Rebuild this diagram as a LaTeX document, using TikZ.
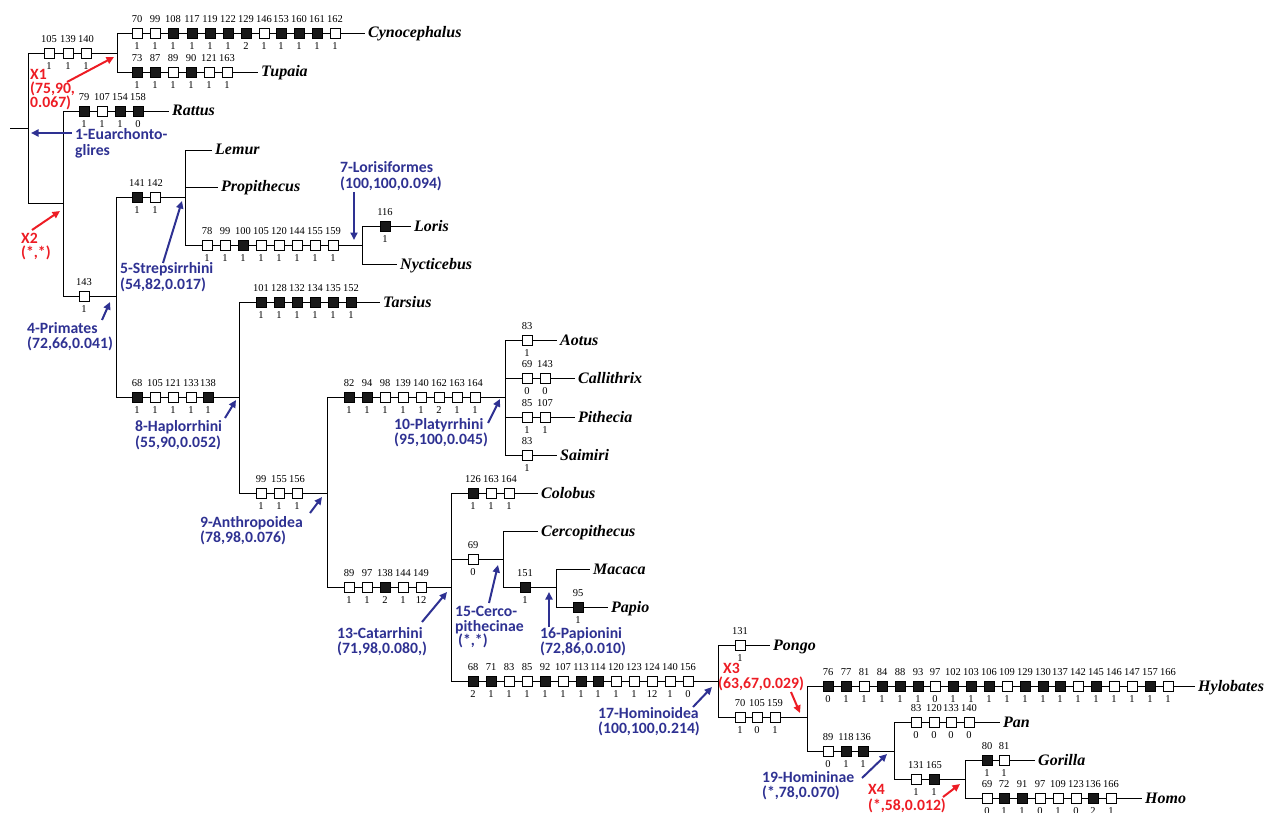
\documentclass[tikz,border=0pt]{standalone}
\usepackage{fontspec}
\setmainfont{Liberation Serif}
\newfontfamily\annfont{Carlito}
\usetikzlibrary{arrows.meta,positioning}
\definecolor{annblue}{RGB}{46,49,146}
\definecolor{annred}{RGB}{237,28,36}
\tikzset{
 br/.style={line width=0.9pt},
 bo/.style={draw, line width=0.9pt, fill=white, minimum size=10pt, inner sep=0pt},
 bf/.style={bo, fill=black!90},
 num/.style={inner sep=0pt, font=\fontsize{10.5}{12}\selectfont},
 taxon/.style={anchor=west, inner sep=3pt, font=\fontsize{16}{18}\selectfont\bfseries\itshape, text height=10pt, text depth=0pt},
 ann/.style={anchor=base west, inner sep=0pt, align=left, font=\fontsize{15.7}{16}\selectfont\annfont\bfseries},
 annb/.style={ann, text=annblue},
 annr/.style={ann, text=annred},
 arb/.style={draw=annblue, line width=2pt, -{Triangle[length=7.5pt,width=7pt]}},
 arr/.style={arb, draw=annred},
}
\newcommand{\charrow}[3]{%
  \foreach \qx/\qt/\qb/\qs [count=\qi] in {#3} {
    \node[\qs] (#1-\qi) at (\qx,#2) {};
    \node[num, above=4.5pt of #1-\qi] (#1-\qi-t) {\qt};
    \node[num, below=3.5pt of #1-\qi] (#1-\qi-b) {\qb};
  }}
\begin{document}
\begin{tikzpicture}[x=1pt,y=-1pt]
\useasboundingbox (0,0) rectangle (1266,813);
% internal nodes
\coordinate (stub) at (10,128);
\coordinate (root) at (28,128);
\coordinate (nA) at (117,53);
\coordinate (nB) at (63,203);
\coordinate (nP) at (116,296);
\coordinate (nS) at (185,197);
\coordinate (nL) at (362,245);
\coordinate (nH) at (239,397);
\coordinate (nAn) at (327,493);
\coordinate (nPl) at (505,397);
\coordinate (nC) at (451,587);
\coordinate (nCe) at (503,559);
\coordinate (nPa) at (556,587);
\coordinate (nHo) at (718,681);
\coordinate (nX3) at (807,717);
\coordinate (nHn) at (894,751);
\coordinate (nX4) at (965,779);
% taxa
\node[taxon] (cyno) at (365,33) {Cynocephalus};
\node[taxon] (tupa) at (258,72) {Tupaia};
\node[taxon] (ratt) at (169,111) {Rattus};
\node[taxon] (lemu) at (212,150) {Lemur};
\node[taxon] (prop) at (218,187) {Propithecus};
\node[taxon] (lori) at (411,226) {Loris};
\node[taxon] (nyct) at (397,264) {Nycticebus};
\node[taxon] (tars) at (380,302) {Tarsius};
\node[taxon] (aotu) at (557,340) {Aotus};
\node[taxon] (call) at (575,378) {Callithrix};
\node[taxon] (pith) at (575,417) {Pithecia};
\node[taxon] (saim) at (557,455) {Saimiri};
\node[taxon] (colo) at (538,493) {Colobus};
\node[taxon] (cerc) at (538,531) {Cercopithecus};
\node[taxon] (maca) at (590,569) {Macaca};
\node[taxon] (papi) at (608,607) {Papio};
\node[taxon] (pong) at (770,645) {Pongo};
\node[taxon] (hylo) at (1195,686) {Hylobates};
\node[taxon] (pan) at (1000,722) {Pan};
\node[taxon] (gori) at (1035,760) {Gorilla};
\node[taxon] (homo) at (1142,798) {Homo};
% branches
\draw[br] (stub) -- (root);
\draw[br] (root) |- (nA);
\draw[br] (root) |- (nB);
\draw[br] (nA) |- (cyno.west);
\draw[br] (nA) |- (tupa.west);
\draw[br] (nB) |- (ratt.west);
\draw[br] (nB) |- (nP);
\draw[br] (nP) |- (nS);
\draw[br] (nP) |- (nH);
\draw[br] (nS) |- (lemu.west);
\draw[br] (nS) |- (prop.west);
\draw[br] (nS) |- (nL);
\draw[br] (nL) |- (lori.west);
\draw[br] (nL) |- (nyct.west);
\draw[br] (nH) |- (tars.west);
\draw[br] (nH) |- (nAn);
\draw[br] (nAn) |- (nPl);
\draw[br] (nAn) |- (nC);
\draw[br] (nPl) |- (aotu.west);
\draw[br] (nPl) |- (call.west);
\draw[br] (nPl) |- (pith.west);
\draw[br] (nPl) |- (saim.west);
\draw[br] (nC) |- (colo.west);
\draw[br] (nC) |- (nCe);
\draw[br] (nC) |- (nHo);
\draw[br] (nCe) |- (cerc.west);
\draw[br] (nCe) |- (nPa);
\draw[br] (nPa) |- (maca.west);
\draw[br] (nPa) |- (papi.west);
\draw[br] (nHo) |- (pong.west);
\draw[br] (nHo) |- (nX3);
\draw[br] (nX3) |- (hylo.west);
\draw[br] (nX3) |- (nHn);
\draw[br] (nHn) |- (pan.west);
\draw[br] (nHn) |- (nX4);
\draw[br] (nX4) |- (gori.west);
\draw[br] (nX4) |- (homo.west);
% character states
\charrow{ca}{53}{49/105/1/bo, 68/139/1/bo, 86/140/1/bo}
\charrow{cy}{33}{137/70/1/bo,155/99/1/bo,173/108/1/bf,192/117/1/bf,210/119/1/bf,228/122/1/bf,246/129/2/bf,264/146/1/bo,281/153/1/bf,299/160/1/bf,317/161/1/bf,335/162/1/bo}
\charrow{tu}{72}{137/73/1/bf,155/87/1/bf,173/89/1/bo,191/90/1/bf,209/121/1/bo,227/163/1/bo}
\charrow{ra}{111}{84/79/1/bf,102/107/1/bo,120/154/1/bf,138/158/0/bf}
\charrow{pr}{296}{84/143/1/bo}
\charrow{st}{197}{137/141/1/bf,155/142/1/bo}
\charrow{lc}{245}{207/78/1/bo,225/99/1/bo,243/100/1/bf,261/105/1/bo,279/120/1/bo,297/144/1/bo,315/155/1/bo,333/159/1/bo}
\charrow{lo}{226}{385/116/1/bf}
\charrow{ha}{397}{137/68/1/bf,155/105/1/bo,173/121/1/bo,191/133/1/bo,208/138/1/bf}
\charrow{ta}{302}{261/101/1/bf,279/128/1/bf,297/132/1/bf,315/134/1/bf,333/135/1/bf,351/152/1/bf}
\charrow{an}{493}{261/99/1/bo,279/155/1/bo,297/156/1/bo}
\charrow{pl}{397}{349/82/1/bf,367/94/1/bf,385/98/1/bo,403/139/1/bo,421/140/1/bo,439/162/2/bo,457/163/1/bo,475/164/1/bo}
\charrow{ao}{340}{527/83/1/bo}
\charrow{cl}{378}{527/69/0/bo,545/143/0/bo}
\charrow{pi}{417}{527/85/1/bo,545/107/1/bo}
\charrow{sa}{455}{527/83/1/bo}
\charrow{ct}{587}{349/89/1/bo,367/97/1/bo,385/138/2/bf,403/144/1/bo,421/149/12/bo}
\charrow{co}{493}{473/126/1/bf,491/163/1/bo,509/164/1/bo}
\charrow{ce}{559}{473/69/0/bo}
\charrow{pp}{587}{525/151/1/bf}
\charrow{pa}{607}{578/95/1/bf}
\charrow{hm}{681}{473/68/2/bf,491/71/1/bf,509/83/1/bo,527/85/1/bo,545/92/1/bf,563/107/1/bo,581/113/1/bf,598/114/1/bf,616/120/1/bo,634/123/1/bo,652/124/12/bo,670/140/1/bo,688/156/0/bo}
\charrow{po}{645}{740/131/1/bo}
\charrow{xt}{717}{740/70/1/bo,757/105/0/bo,775/159/1/bo}
\charrow{hy}{686}{828/76/0/bf,846/77/1/bf,864/81/1/bo,882/84/1/bf,900/88/1/bf,918/93/1/bf,935/97/0/bo,953/102/1/bf,971/103/1/bf,989/106/1/bf,1007/109/1/bo,1025/129/1/bf,1043/130/1/bf,1060/137/1/bf,1078/142/1/bo,1096/145/1/bf,1114/146/1/bo,1132/147/1/bo,1150/157/1/bf,1168/166/1/bo}
\charrow{hn}{751}{828/89/0/bo,846/118/1/bf,863/136/1/bf}
\charrow{pn}{722}{916/83/0/bo,934/120/0/bo,951/133/0/bo,969/140/0/bo}
\charrow{xf}{779}{916/131/1/bo,934/165/1/bf}
\charrow{go}{760}{987/80/1/bf,1004/81/1/bo}
\charrow{hs}{798}{987/69/0/bo,1004/72/1/bf,1022/91/1/bf,1040/97/0/bo,1058/109/1/bo,1076/123/0/bo,1093/136/2/bf,1111/166/1/bo}
% annotations (anchored at the baseline of the last line)
\node[annr] (x1t) at (30,108) {X1\\[-2pt](75,90,\\[-2pt]0.067)};
\node[annb] (a1t) at (75,156) {1-Euarchonto-\\glires};
\node[annr] (x2t) at (21,258) {X2\\[-1.5pt](*,*)};
\node[annb] (a5t) at (120,289) {5-Strepsirrhini\\(54,82,0.017)};
\node[annb] (a7t) at (340,189) {7-Lorisiformes\\(100,100,0.094)};
\node[annb] (a4t) at (27,348) {4-Primates\\[-1pt](72,66,0.041)};
\node[annb] (a8t) at (135,447) {8-Haplorrhini\\(55,90,0.052)};
\node[annb] (a10t) at (394,444) {10-Platyrrhini\\[-1pt](95,100,0.045)};
\node[annb] (a9t) at (200,542) {9-Anthropoidea\\[-1pt](78,98,0.076)};
\node[annb] (a13t) at (337,653) {13-Catarrhini\\[-1pt](71,98,0.080,)};
\node[annb] (a15t) at (455,645) {15-Cerco-\\[-1pt]pithecinae\\[-2pt]\hspace{3pt}(*,*)};
\node[annb] (a16t) at (540,653) {16-Papionini\\[-1pt](72,86,0.010)};
\node[annb] (a17t) at (598,733) {17-Hominoidea\\[-1pt](100,100,0.214)};
\node[annr] (x3t) at (718,688) {\hspace{5pt}X3\\[-1.5pt](63,67,0.029)};
\node[annb] (a19t) at (762,797) {19-Homininae\\[-1pt](*,78,0.070)};
\node[annr] (x4t) at (868,810) {X4\\(*,58,0.012)};
% arrows
\coordinate (x1s) at (67,82);   \coordinate (x1e) at (114,57);
\coordinate (a1s) at (72,133);  \coordinate (a1e) at (31,133);
\coordinate (x2s) at (32,230);  \coordinate (x2e) at (60,211);
\coordinate (a5s) at (163,263); \coordinate (a5e) at (182,201);
\coordinate (a7s) at (354,192); \coordinate (a7e) at (354,240);
\coordinate (a4s) at (102,320); \coordinate (a4e) at (110,302);
\coordinate (a8s) at (225,418); \coordinate (a8e) at (236,400);
\coordinate (a10s) at (488,423); \coordinate (a10e) at (500,399);
\coordinate (a9s) at (310,513); \coordinate (a9e) at (322,497);
\coordinate (a13s) at (422,622); \coordinate (a13e) at (447,592);
\coordinate (a15s) at (489,603); \coordinate (a15e) at (498,565);
\coordinate (a16s) at (549,627); \coordinate (a16e) at (549,592);
\coordinate (a17s) at (693,707); \coordinate (a17e) at (712,687);
\coordinate (x3s) at (791,692); \coordinate (x3e) at (800,713);
\coordinate (a19s) at (862,778); \coordinate (a19e) at (887,754);
\coordinate (x4s) at (943,797); \coordinate (x4e) at (960,784);
\draw[arr] (x1s) -- (x1e);
\draw[arb] (a1s) -- (a1e);
\draw[arr] (x2s) -- (x2e);
\draw[arb] (a5s) -- (a5e);
\draw[arb] (a7s) -- (a7e);
\draw[arb] (a4s) -- (a4e);
\draw[arb] (a8s) -- (a8e);
\draw[arb] (a10s) -- (a10e);
\draw[arb] (a9s) -- (a9e);
\draw[arb] (a13s) -- (a13e);
\draw[arb] (a15s) -- (a15e);
\draw[arb] (a16s) -- (a16e);
\draw[arb] (a17s) -- (a17e);
\draw[arr] (x3s) -- (x3e);
\draw[arb] (a19s) -- (a19e);
\draw[arr] (x4s) -- (x4e);
\end{tikzpicture}
\end{document}
